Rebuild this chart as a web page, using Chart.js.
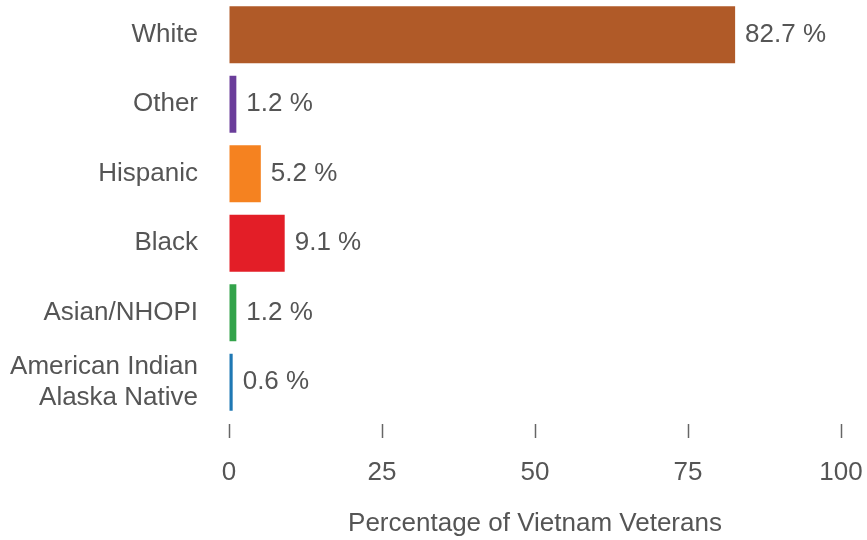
<!DOCTYPE html>
<html><head><meta charset="utf-8">
<script src="https://cdn.jsdelivr.net/npm/chart.js@4/dist/chart.umd.min.js"></script>
<style>html,body{margin:0;padding:0;background:#fff}#wrap{width:867px;height:540px}</style>
</head><body><div id="wrap"><canvas id="c"></canvas></div>
<script>
const categories = [["White"], ["Other"], ["Hispanic"], ["Black"], ["Asian/NHOPI"], ["American Indian", "Alaska Native"]];
const values = [82.7, 1.2, 5.2, 9.1, 1.2, 0.6];
const colors = ["#b05a28", "#6a3d9a", "#f58220", "#e31e27", "#33a34a", "#1f78b4"];
const xTicks = [0, 25, 50, 75, 100];
const axisTitle = "Percentage of Vietnam Veterans";

const FONT = "Arial, 'Liberation Sans', sans-serif";
const TXT = "#555555";

const valueLabels = {
  id: 'valueLabels',
  afterDatasetsDraw(chart) {
    const ctx = chart.ctx;
    const meta = chart.getDatasetMeta(0);
    ctx.save();
    ctx.font = "26px " + FONT;
    ctx.fillStyle = TXT;
    ctx.textAlign = 'left';
    ctx.textBaseline = 'middle';
    meta.data.forEach((bar, i) => {
      ctx.fillText(values[i].toFixed(1) + " %", bar.x + 10, bar.y);
    });
    ctx.restore();
  }
};

new Chart(document.getElementById('c'), {
  type: 'bar',
  data: {
    labels: categories,
    datasets: [{ data: values, backgroundColor: colors, borderWidth: 0,
      barPercentage: 0.82, categoryPercentage: 1.0 }]
  },
  options: {
    indexAxis: 'y',
    responsive: true,
    maintainAspectRatio: false,
    animation: false,
    layout: { padding: { left: 0, right: 26, top: 0, bottom: 0 } },
    plugins: { legend: { display: false }, tooltip: { enabled: false } },
    scales: {
      y: {
        grid: { display: false, drawTicks: false },
        border: { display: false },
        ticks: { color: TXT, font: { family: FONT, size: 26 }, padding: 31, autoSkip: false },
        afterFit(scale) { scale.width = 229; scale.paddingTop = 0; scale.paddingBottom = 0; }
      },
      x: {
        min: 0, max: 100,
        afterBuildTicks(scale) { scale.ticks = xTicks.map(v => ({ value: v })); },
        grid: { drawOnChartArea: false, drawTicks: true, tickLength: 21,
          tickColor: '#666', tickWidth: 1.5, tickBorderDash: [14, 7], tickBorderDashOffset: 14 },
        border: { display: false },
        ticks: { color: TXT, font: { family: FONT, size: 26 }, padding: 19, maxRotation: 0 },
        title: { display: true, text: axisTitle, color: TXT, font: { family: FONT, size: 26 }, padding: { top: 4, bottom: 1 } },
        afterFit(scale) { scale.height = 123; scale.paddingLeft = 0; scale.paddingRight = 0; }
      }
    }
  },
  plugins: [valueLabels]
});
</script></body></html>
